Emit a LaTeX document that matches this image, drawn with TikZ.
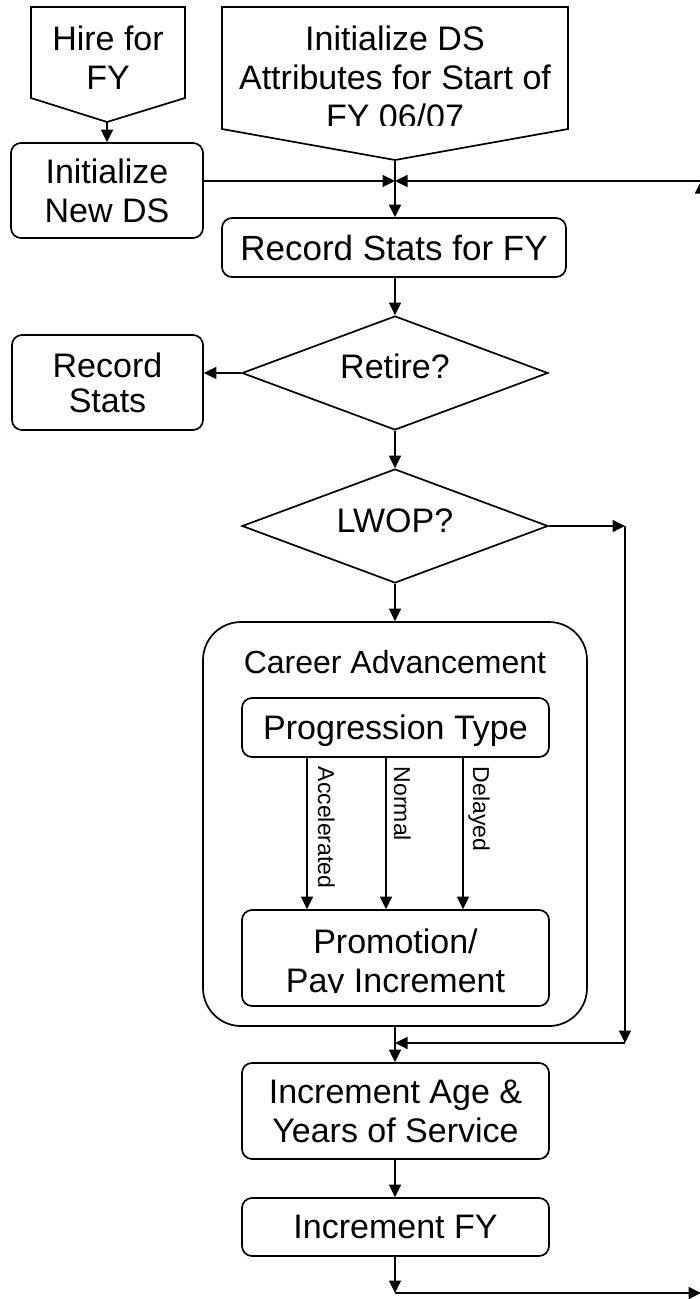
\documentclass[tikz,border=0pt]{standalone}
\usepackage{fontspec}
\setmainfont{Liberation Sans}
\usetikzlibrary{shapes.geometric,arrows.meta}
\begin{document}
\begin{tikzpicture}[x=1pt,y=-1pt,line width=1.7pt,
  txt/.style={font=\fontsize{34}{39}\selectfont, inner sep=0pt, align=center},
  box/.style={txt, draw, rounded corners=10pt, text depth=0pt},
  decision/.style={draw, diamond, inner sep=0pt, minimum width=306pt, minimum height=114pt},
  flow/.style={-{Triangle[length=12.5pt,width=12pt]}},
  branch/.style={font=\fontsize{23}{26}\selectfont, inner sep=0pt, rotate=-90, anchor=base west}]
\useasboundingbox (0,0) rectangle (700,1299);
\clip (0,0) rectangle (700,1299);

% off-page inputs
\draw (31,7) -- (185,7) -- (185,98) -- (107,122) -- (31,98) -- cycle;
\coordinate (hiretip) at (107,122);
\node[txt, anchor=north] (hire) at (108,25) {Hire for\\FY};

\draw (222,7) -- (568,7) -- (568,129) -- (395,160) -- (222,129) -- cycle;
\coordinate (inittip) at (395,160);
\begin{scope}
  \clip (222,7) rectangle (568,125);
  \node[txt, anchor=north] (init) at (395,25) {Initialize DS\\Attributes for Start of\\FY 06/07};
\end{scope}

% process steps
\node[box, minimum width=192pt, minimum height=95pt] (newds) at (107,190.5) {Initialize\\New DS};
\node[box, minimum width=344pt, minimum height=59pt, font=\fontsize{35}{39}\selectfont] (stats) at (394,247.5) {Record Stats for FY};

\node[decision] (retire) at (395,373) {};
\node[txt] (retirelbl) at (395,366.5) {Retire?};
\node[box, minimum width=191pt, minimum height=95pt, font=\fontsize{34}{35}\selectfont] (recstats) at (107.5,382.5) {Record\\Stats};

\node[decision] (lwop) at (395,526) {};
\node[txt] (lwoplbl) at (395,520.5) {LWOP?};

% career advancement group
\node[draw, rounded corners=38pt, minimum width=384pt, minimum height=404pt, inner sep=0pt] (career) at (395,824) {};
\node[txt, font=\fontsize{32}{36}\selectfont] (careerlbl) at (395,662) {Career Advancement};
\node[box, minimum width=307pt, minimum height=59pt] (prog) at (395.5,727.5) {Progression Type};
\node[box, minimum width=307pt, minimum height=96pt] (promo) at (395.5,958) {};
\begin{scope}
  \clip (242,910) rectangle (549,992);
  \node[txt, anchor=north] (promolbl) at (395.5,928) {Promotion/\\Pay Increment};
\end{scope}

\node[box, minimum width=307pt, minimum height=96pt] (incage) at (395.5,1111) {Increment Age \&\\Years of Service};
\node[box, minimum width=307pt, minimum height=58pt] (incfy) at (395.5,1227) {Increment FY};

% junction and routing points
\coordinate (join) at (395,181);
\coordinate (loopin) at (701,181);
\coordinate (loopcorner) at (701,1293);
\coordinate (endturn) at (395,1293);
\coordinate (lwopout) at (625,526);
\coordinate (lwopdown) at (625,1043);
\coordinate (merge) at (395,1043);

% connectors
\draw[flow] (hiretip) -- (newds.north);
\draw (inittip) -- (join);
\draw[flow] (newds.east |- join) -- (join);
\draw[flow] (loopcorner) -- (loopin);
\draw[flow] (loopin) -- (join);
\draw[flow] (join) -- (stats.north -| join);
\draw[flow] (stats.south -| join) -- (retire.north);
\draw[flow] (retire.west) -- (recstats.east |- retire.west);
\draw[flow] (retire.south) -- (lwop.north);
\draw[flow] (lwop.east) -- (lwopout);
\draw[flow] (lwopout) -- (lwopdown);
\draw[flow] (lwopdown) -- (merge);
\draw[flow] (lwop.south) -- (career.north);
\draw[flow] (career.south) -- (incage.north -| career.south);
\draw[flow] (incage.south -| career.south) -- (incfy.north -| career.south);
\draw[flow] (incfy.south -| career.south) -- (endturn);
\draw[flow] (endturn) -- (loopcorner);

% progression branches
\draw[flow] ([xshift=-88.5pt]prog.south) -- ([xshift=-88.5pt]promo.north);
\draw[flow] ([xshift=-9.5pt]prog.south) -- ([xshift=-9.5pt]promo.north);
\draw[flow] ([xshift=67.5pt]prog.south) -- ([xshift=67.5pt]promo.north);
\node[branch] (lblacc) at (318,766) {Accelerated};
\node[branch] (lblnorm) at (394,766) {Normal};
\node[branch] (lbldel) at (473,766) {Delayed};
\end{tikzpicture}
\end{document}
